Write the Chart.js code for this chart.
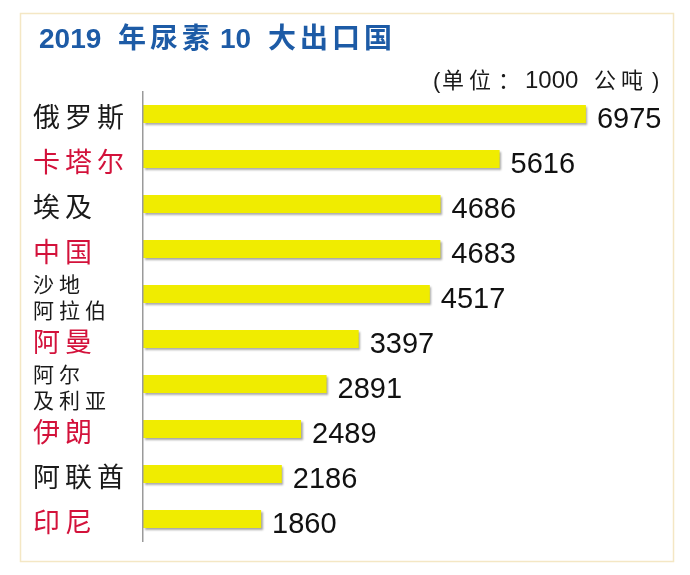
<!DOCTYPE html>
<html>
<head>
<meta charset="utf-8">
<script src="https://cdn.jsdelivr.net/npm/chart.js@4.4.1/dist/chart.umd.min.js"></script>
<style>
  body { margin: 0; background: #fff; }
  #wrap { width: 690px; height: 575px; position: relative; }
</style>
</head>
<body>
<div id="wrap"><canvas id="ureaChart"></canvas></div>
<script>
const countries = ['俄罗斯', '卡塔尔', '埃及', '中国', ['沙地', '阿拉伯'], '阿曼', ['阿尔', '及利亚'], '伊朗', '阿联酋', '印尼'];
const exports2019 = [6975, 5616, 4686, 4683, 4517, 3397, 2891, 2489, 2186, 1860];
const highlighted = [false, true, false, true, false, true, false, true, false, true];
const titleParts = ['2019', '年尿素', '10', '大出口国'];
const unitParts = ['(', '单', '位', '：', '1000', '公', '吨', ')'];

const CJK = '"Noto Sans CJK SC", sans-serif';
const LATIN = '"Liberation Sans", "Noto Sans CJK SC", sans-serif';

// frame, text spacing, bar shadow, value labels and headings
const decor = {
  id: 'decor',
  beforeDraw(chart) {
    const ctx = chart.ctx;
    ctx.save();
    ctx.fillStyle = '#fff';
    ctx.fillRect(0, 0, chart.width, chart.height);
    ctx.strokeStyle = '#f4e7c4';
    ctx.lineWidth = 1.5;
    ctx.strokeRect(20.5, 13.5, 653, 548);
    ctx.restore();
    ctx.letterSpacing = '5px';
  },
  beforeDatasetsDraw(chart) {
    const ctx = chart.ctx;
    ctx.letterSpacing = '0px';
    ctx.save();
    ctx.shadowColor = 'rgba(0,0,0,0.35)';
    ctx.shadowOffsetX = 1.5;
    ctx.shadowOffsetY = 2;
    ctx.shadowBlur = 2;
  },
  afterDatasetsDraw(chart) {
    const ctx = chart.ctx;
    ctx.restore();
    const meta = chart.getDatasetMeta(0);
    ctx.save();
    ctx.font = '29px ' + LATIN;
    ctx.fillStyle = '#111';
    ctx.textBaseline = 'alphabetic';
    meta.data.forEach((bar, i) => {
      ctx.fillText(String(exports2019[i]), bar.x + 11, bar.y + 14);
    });
    ctx.restore();
  },
  afterDraw(chart) {
    const ctx = chart.ctx;
    ctx.save();
    ctx.fillStyle = '#1d5ba6';
    ctx.textBaseline = 'alphabetic';
    ctx.font = 'bold 28px ' + LATIN;
    const tx = [39, 118, 220, 268];
    titleParts.forEach((t, i) => {
      ctx.letterSpacing = (i % 2) ? '4px' : '0px';
      ctx.fillText(t, tx[i], 48);
    });
    ctx.letterSpacing = '0px';
    ctx.fillStyle = '#1a1a1a';
    const ux = [433, 442, 469, 498, 525, 594, 621, 652];
    unitParts.forEach((t, i) => {
      ctx.font = (t === '1000' ? '24px ' : '22px ') + LATIN;
      ctx.fillText(t, ux[i], 88);
    });
    ctx.restore();
  }
};

new Chart(document.getElementById('ureaChart'), {
  type: 'bar',
  data: {
    labels: countries,
    datasets: [{
      data: exports2019,
      backgroundColor: '#f0ec00',
      borderWidth: 0,
      barPercentage: 0.4,
      categoryPercentage: 1
    }]
  },
  options: {
    indexAxis: 'y',
    responsive: true,
    maintainAspectRatio: false,
    animation: false,
    layout: { padding: { top: 91.5, bottom: 33.5, left: 33, right: 39 } },
    plugins: {
      legend: { display: false },
      tooltip: { enabled: false },
      title: { display: false }
    },
    scales: {
      x: {
        display: false,
        min: 0,
        max: 8000
      },
      y: {
        grid: { display: false },
        border: { display: true, color: '#9a9a9a', width: 1.5, z: 1 },
        afterFit(scale) { scale.width = 110; },
        ticks: {
          crossAlign: 'far',
          autoSkip: false,
          labelOffset: 3,
          color: (c) => highlighted[c.index] ? '#d3123b' : '#1a1a1a',
          font: (c) => Array.isArray(countries[c.index])
            ? { family: CJK, size: 21, lineHeight: 1.2 }
            : { family: CJK, size: 27, lineHeight: 1.2 }
        }
      }
    }
  },
  plugins: [decor]
});
</script>
</body>
</html>
